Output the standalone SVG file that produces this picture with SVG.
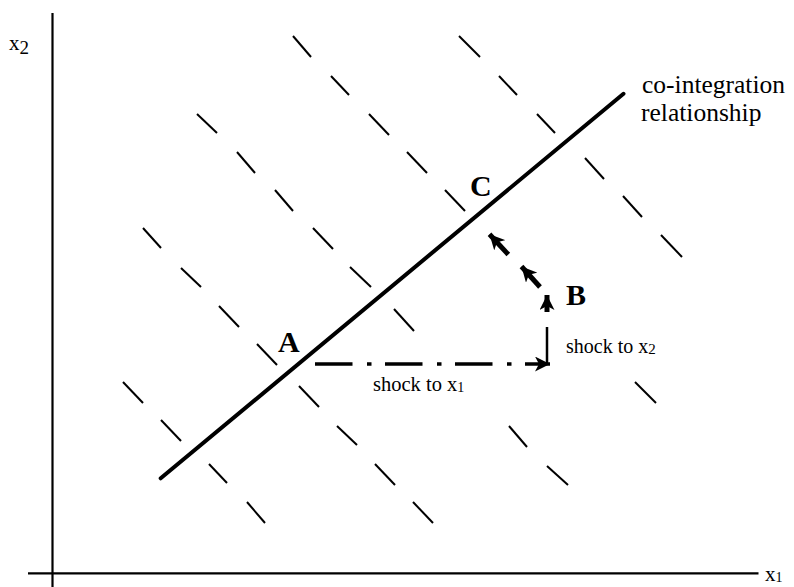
<svg xmlns="http://www.w3.org/2000/svg" width="794" height="587" viewBox="0 0 794 587">
<style>
.axis{stroke:#000;stroke-width:2.2;fill:none}
.dash{stroke:#000;stroke-width:2;fill:none;stroke-linecap:butt}
.main{stroke:#000;stroke-width:4;fill:none;stroke-linecap:round}
.t{font-family:"Liberation Serif","Times New Roman",serif;fill:#000}
.lbl{font-family:"Liberation Serif","Times New Roman",serif;font-weight:bold;font-size:30px;fill:#000}
.arr{stroke:#000;fill:none}
</style>
<defs>
<marker id="ah" markerUnits="userSpaceOnUse" viewBox="0 0 15 15" refX="15" refY="7.5" markerWidth="15" markerHeight="15" orient="auto">
<path d="M0,0 L15,7.5 L0,15 L4,7.5 Z" fill="#000"/>
</marker>
</defs>
<g id="axes">
<line class="axis" x1="52.5" y1="13" x2="52.5" y2="587"/>
<line class="axis" x1="28" y1="573.3" x2="758.5" y2="573.3"/>
<text class="t" x="9" y="49.5" font-size="21">x<tspan font-size="19" dy="4">2</tspan></text>
<text class="t" x="765" y="581" font-size="21">x<tspan font-size="14" dy="1">1</tspan></text>
</g>
<g id="iso-lines">
<line class="dash" x1="293" y1="36" x2="311" y2="57"/>
<line class="dash" x1="331" y1="76" x2="349" y2="95"/>
<line class="dash" x1="369" y1="114" x2="389" y2="135"/>
<line class="dash" x1="407" y1="152" x2="427" y2="173"/>
<line class="dash" x1="445" y1="190" x2="465" y2="211"/>
<line class="dash" x1="459" y1="36" x2="480" y2="57"/>
<line class="dash" x1="499" y1="76" x2="517" y2="95"/>
<line class="dash" x1="537" y1="114" x2="555" y2="133"/>
<line class="dash" x1="585" y1="158" x2="604" y2="179"/>
<line class="dash" x1="623" y1="196" x2="642" y2="217"/>
<line class="dash" x1="661" y1="235" x2="682" y2="257"/>
<line class="dash" x1="197" y1="114" x2="217" y2="133"/>
<line class="dash" x1="237" y1="152" x2="255" y2="173"/>
<line class="dash" x1="275" y1="190" x2="293" y2="211"/>
<line class="dash" x1="313" y1="228" x2="333" y2="249"/>
<line class="dash" x1="350" y1="267" x2="371" y2="287"/>
<line class="dash" x1="394" y1="309" x2="414" y2="331"/>
<line class="dash" x1="143" y1="228" x2="161" y2="248"/>
<line class="dash" x1="181" y1="268" x2="201" y2="287"/>
<line class="dash" x1="219" y1="306" x2="239" y2="327"/>
<line class="dash" x1="257" y1="344" x2="277" y2="365"/>
<line class="dash" x1="299" y1="386" x2="319" y2="407"/>
<line class="dash" x1="337" y1="426" x2="357" y2="445"/>
<line class="dash" x1="375" y1="464" x2="395" y2="485"/>
<line class="dash" x1="413" y1="502" x2="433" y2="523"/>
<line class="dash" x1="123" y1="382" x2="143" y2="403"/>
<line class="dash" x1="161" y1="420" x2="181" y2="441"/>
<line class="dash" x1="209" y1="464" x2="227" y2="483"/>
<line class="dash" x1="247" y1="502" x2="265" y2="523"/>
<line class="dash" x1="509" y1="426" x2="527" y2="447"/>
<line class="dash" x1="547" y1="466" x2="568" y2="485"/>
<line class="dash" x1="635" y1="382" x2="656" y2="403"/>
</g>
<g id="coint-line">
<line class="main" x1="160.7" y1="478.3" x2="623.5" y2="93.8"/>
<text class="t" x="642" y="93" font-size="25.5">co-integration</text>
<text class="t" x="641" y="121" font-size="25.5">relationship</text>
</g>
<g id="A"><text class="lbl" x="278" y="352">A</text></g>
<g id="B"><text class="lbl" x="566" y="305">B</text></g>
<g id="C"><text class="lbl" x="470" y="196">C</text></g>
<g id="connectors">
<line class="arr" x1="315" y1="364" x2="550" y2="364" stroke-width="3.7" stroke-dasharray="37.5 14.5 4.5 13.5" marker-end="url(#ah)"/>
<line class="arr" x1="547" y1="364" x2="547" y2="327" stroke-width="2.5"/>
<line class="arr" x1="547" y1="312" x2="547" y2="295" stroke-width="5" marker-end="url(#ah)"/>
<line class="arr" x1="540" y1="287" x2="521.5" y2="266.5" stroke-width="5" marker-end="url(#ah)"/>
<line class="arr" x1="508.3" y1="254.5" x2="489.5" y2="234.3" stroke-width="5" marker-end="url(#ah)"/>
<text class="t" x="373" y="390.7" font-size="20.5">shock to x<tspan font-size="14" dy="1.5">1</tspan></text>
<text class="t" x="566" y="352.7" font-size="20">shock to x<tspan font-size="15" dy="1.5">2</tspan></text>
</g>
</svg>
